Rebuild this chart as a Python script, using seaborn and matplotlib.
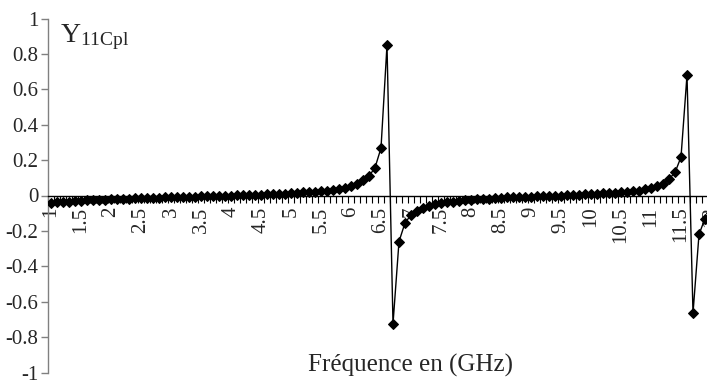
import numpy as np
import pandas as pd
import matplotlib
matplotlib.use("Agg")
import matplotlib.pyplot as plt
import seaborn as sns

# frequency categories 1.0 .. 12.0 GHz, step 0.1
freq = [round(1 + 0.1 * i, 1) for i in range(111)]

y11 = [
    -0.042, -0.039, -0.036, -0.034, -0.032, -0.030, -0.028, -0.026, -0.024, -0.023,   # 1.0-1.9
    -0.021, -0.020, -0.019, -0.017, -0.016, -0.015, -0.014, -0.013, -0.012, -0.011,   # 2.0-2.9
    -0.010, -0.009, -0.008, -0.007, -0.006, -0.005, -0.004, -0.003, -0.002, -0.001,   # 3.0-3.9
    0.000, 0.001, 0.002, 0.003, 0.004, 0.005, 0.006, 0.008, 0.009, 0.011,             # 4.0-4.9
    0.013, 0.015, 0.017, 0.019, 0.021, 0.024, 0.027, 0.032, 0.038, 0.045,             # 5.0-5.9
    0.054, 0.067, 0.086, 0.110, 0.157, 0.268, 0.850, -0.725, -0.260, -0.155,          # 6.0-6.9
    -0.110, -0.085, -0.068, -0.057, -0.049, -0.043, -0.038, -0.034, -0.030, -0.027,   # 7.0-7.9
    -0.024, -0.021, -0.019, -0.017, -0.015, -0.013, -0.011, -0.010, -0.008, -0.007,   # 8.0-8.9
    -0.006, -0.004, -0.003, -0.002, -0.001, 0.000, 0.001, 0.003, 0.005, 0.006,        # 9.0-9.9
    0.008, 0.010, 0.012, 0.014, 0.016, 0.019, 0.021, 0.024, 0.027, 0.034,             # 10.0-10.9
    0.042, 0.054, 0.067, 0.093, 0.130, 0.217, 0.680, -0.665, -0.220, -0.130,          # 11.0-11.9
    -0.100,                                                                           # 12.0
]

x_labels = [1, 1.5, 2, 2.5, 3, 3.5, 4, 4.5, 5, 5.5, 6, 6.5, 7, 7.5, 8, 8.5, 9, 9.5,
            10, 10.5, 11, 11.5, 12]
y_ticks = [-1, -0.8, -0.6, -0.4, -0.2, 0, 0.2, 0.4, 0.6, 0.8, 1]

df = pd.DataFrame({"freq": freq, "Y11": y11})

sns.set_style("white")
plt.rcParams["font.family"] = ["Liberation Serif", "DejaVu Serif"]
plt.rcParams["mathtext.fontset"] = "custom"
plt.rcParams["mathtext.rm"] = "Liberation Serif"

fig = plt.figure(figsize=(7.07, 3.82), dpi=100)
# plot area runs a bit past the right edge, like the cropped original
ax = fig.add_axes([48 / 707, (382 - 372.5) / 382, 666 / 707, 354 / 382])

sns.lineplot(data=df, x="freq", y="Y11", ax=ax, color="black", linewidth=1,
             marker="D", markersize=5, markeredgecolor="black", zorder=3)

ax.set_xlim(0.95, 12.05)
ax.set_ylim(-1, 1)

# y axis (grey, ticks outside)
ax.set_yticks(y_ticks)
ax.set_yticklabels([f"{v:g}" for v in y_ticks])
ax.spines["left"].set_color("#808080")
ax.spines["left"].set_linewidth(1)
ax.tick_params(axis="y", direction="out", length=5, width=1, color="#808080",
               labelsize=15, pad=2, left=True)

# x axis crossing at y = 0
for s in ["top", "right"]:
    ax.spines[s].set_visible(False)
ax.spines["bottom"].set_position(("data", 0))
ax.spines["bottom"].set_color("black")
ax.spines["bottom"].set_linewidth(1)
ax.set_xticks(x_labels)
ax.set_xticklabels([f"{v:g}" for v in x_labels], rotation=90, va="top", ha="center")
ax.set_xticks([round(0.95 + 0.1 * i, 2) for i in range(112)], minor=True)
ax.tick_params(axis="x", which="major", length=0, labelsize=15, pad=8, bottom=True)
ax.tick_params(axis="x", which="minor", direction="out", length=5, width=0.8,
               color="black", bottom=True)
ax.set_xlabel("")
ax.set_ylabel("")

ax.text(60 / 707, 1 - 42 / 382, r"$\mathregular{Y_{11Cpl}}$", transform=fig.transFigure,
        fontsize=20, ha="left", va="baseline")
fig.text(411 / 707, (382 - 372) / 382, "Fréquence en (GHz)", fontsize=18,
         ha="center", va="baseline")

fig.savefig("out.png", dpi=100)
